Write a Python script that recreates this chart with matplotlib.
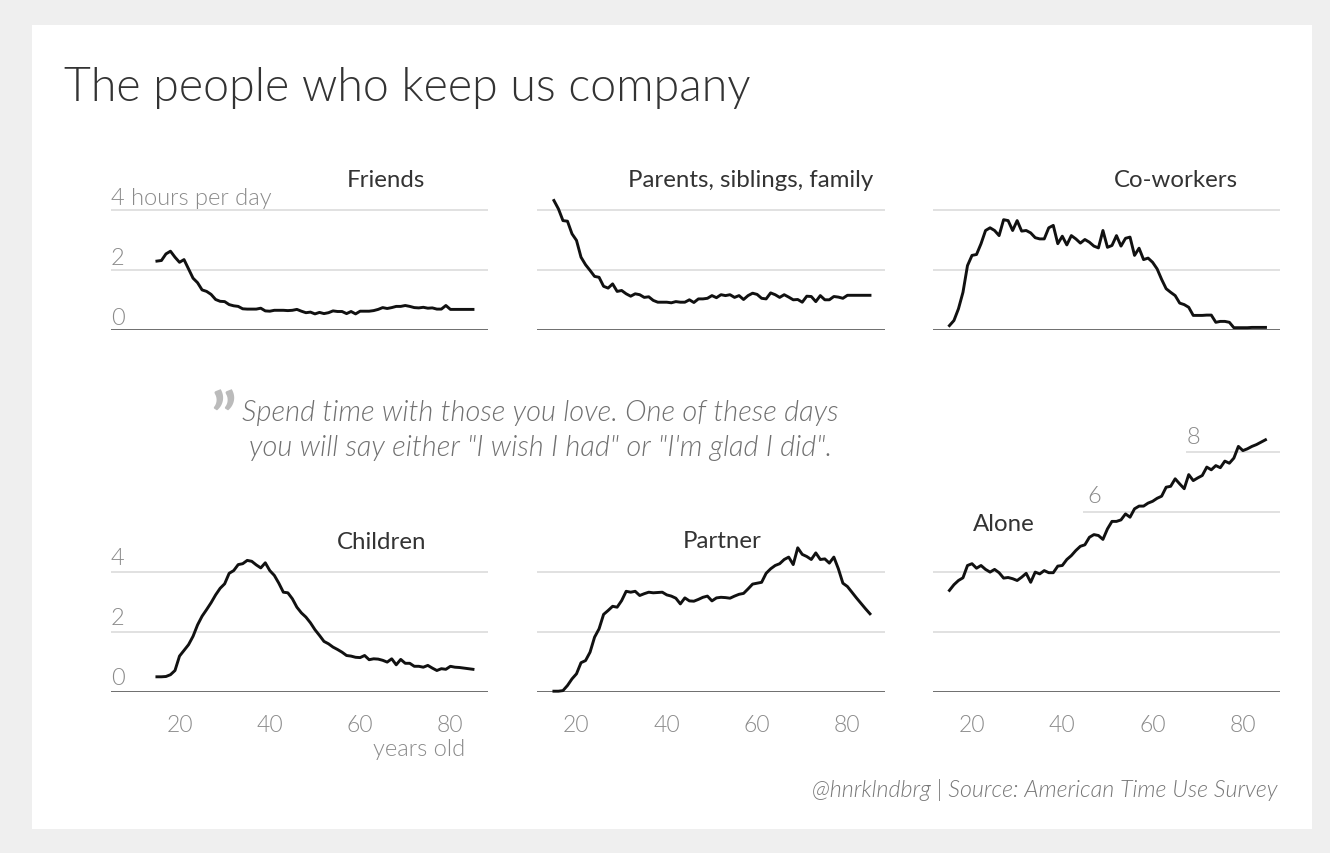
import matplotlib
matplotlib.use('Agg')
import matplotlib.pyplot as plt
from matplotlib.patches import Rectangle

plt.rcParams['font.family'] = ['Lato', 'DejaVu Sans']

# ---------------- data (hours per day by age) ----------------
ages = list(range(15, 86))

friends = [2.28, 2.30, 2.52, 2.61, 2.41, 2.24, 2.33, 2.02, 1.71, 1.56,
           1.32, 1.27, 1.17, 1.00, 0.94, 0.93, 0.83, 0.79, 0.77, 0.69,
           0.68, 0.68, 0.68, 0.71, 0.62, 0.61, 0.64, 0.64, 0.64, 0.63,
           0.64, 0.67, 0.61, 0.56, 0.58, 0.52, 0.57, 0.53, 0.56, 0.62,
           0.60, 0.60, 0.53, 0.60, 0.52, 0.61, 0.61, 0.61, 0.63, 0.67,
           0.73, 0.70, 0.73, 0.77, 0.77, 0.80, 0.77, 0.73, 0.72, 0.74,
           0.71, 0.72, 0.68, 0.68, 0.80, 0.67, 0.67, 0.67, 0.67, 0.67,
           0.67]

family = [4.30, 4.02, 3.63, 3.61, 3.19, 2.97, 2.41, 2.16, 1.97, 1.77,
          1.74, 1.44, 1.38, 1.52, 1.27, 1.30, 1.19, 1.11, 1.19, 1.16,
          1.07, 1.09, 0.97, 0.91, 0.91, 0.91, 0.89, 0.93, 0.91, 0.91,
          0.99, 0.90, 1.02, 1.02, 1.04, 1.13, 1.06, 1.16, 1.13, 1.16,
          1.07, 1.13, 1.00, 1.13, 1.21, 1.17, 1.04, 1.02, 1.22, 1.16,
          1.07, 1.16, 1.08, 0.99, 1.00, 0.91, 1.11, 1.10, 0.93, 1.13,
          0.99, 0.99, 1.10, 1.08, 1.04, 1.14, 1.14, 1.14, 1.14, 1.14,
          1.14]

coworkers = [0.13, 0.30, 0.69, 1.24, 2.13, 2.47, 2.50, 2.86, 3.30, 3.39,
             3.30, 3.13, 3.66, 3.63, 3.30, 3.63, 3.28, 3.30, 3.22, 3.06,
             3.02, 3.02, 3.39, 3.47, 2.86, 3.11, 2.82, 3.13, 3.02, 2.88,
             3.00, 2.91, 2.78, 2.72, 3.30, 2.74, 2.80, 3.13, 2.78, 3.04,
             3.08, 2.47, 2.71, 2.33, 2.38, 2.24, 2.02, 1.67, 1.36, 1.24,
             1.13, 0.88, 0.83, 0.74, 0.47, 0.47, 0.47, 0.48, 0.48, 0.24,
             0.27, 0.27, 0.24, 0.06, 0.06, 0.06, 0.06, 0.07, 0.07, 0.07,
             0.07]

children = [0.49, 0.49, 0.50, 0.56, 0.70, 1.18, 1.37, 1.56, 1.84, 2.22,
            2.51, 2.73, 2.96, 3.22, 3.44, 3.59, 3.94, 4.03, 4.23, 4.26,
            4.37, 4.34, 4.22, 4.12, 4.29, 4.03, 3.87, 3.61, 3.31, 3.29,
            3.09, 2.81, 2.62, 2.48, 2.29, 2.06, 1.87, 1.67, 1.59, 1.48,
            1.40, 1.31, 1.20, 1.18, 1.14, 1.13, 1.20, 1.06, 1.09, 1.08,
            1.04, 0.98, 1.09, 0.89, 1.07, 0.94, 0.94, 0.84, 0.84, 0.81,
            0.87, 0.78, 0.70, 0.76, 0.74, 0.84, 0.81, 0.80, 0.78, 0.76,
            0.74]

partner = [0.01, 0.01, 0.03, 0.20, 0.42, 0.59, 0.96, 1.03, 1.31, 1.81,
           2.09, 2.57, 2.70, 2.84, 2.81, 3.03, 3.34, 3.31, 3.34, 3.20,
           3.26, 3.31, 3.29, 3.30, 3.31, 3.22, 3.18, 3.11, 2.92, 3.12,
           3.02, 3.01, 3.07, 3.14, 3.18, 3.02, 3.12, 3.14, 3.13, 3.11,
           3.18, 3.24, 3.27, 3.42, 3.58, 3.61, 3.64, 3.94, 4.09, 4.20,
           4.26, 4.40, 4.48, 4.23, 4.79, 4.57, 4.50, 4.40, 4.62, 4.40,
           4.42, 4.28, 4.48, 4.09, 3.61, 3.50, 3.31, 3.12, 2.94, 2.76,
           2.59]

alone = [3.37, 3.56, 3.70, 3.79, 4.20, 4.26, 4.11, 4.20, 4.07, 3.98,
         4.07, 3.96, 3.78, 3.80, 3.76, 3.70, 3.81, 3.94, 3.64, 3.98,
         3.92, 4.03, 3.96, 3.96, 4.18, 4.20, 4.40, 4.53, 4.70, 4.84,
         4.89, 5.14, 5.23, 5.20, 5.07, 5.42, 5.67, 5.67, 5.72, 5.92,
         5.81, 6.09, 6.18, 6.18, 6.28, 6.34, 6.44, 6.51, 6.81, 6.84,
         7.09, 6.92, 6.76, 7.23, 7.03, 7.12, 7.20, 7.48, 7.39, 7.53,
         7.46, 7.68, 7.61, 7.78, 8.17, 8.03, 8.09, 8.17, 8.23, 8.31,
         8.39]

panel_titles = ["Friends", "Parents, siblings, family", "Co-workers",
                "Children", "Partner", "Alone"]
x_ticks = [20, 40, 60, 80]
y_grid = [0, 2, 4]
alone_grid = [0, 2, 4, 6, 8]

# ---------------- layout (pixels) ----------------
W, H = 1330, 854
PX_YR = 4.515
PX_HR = 30.0
GRID_C = '#d9d9d9'
BASE_C = '#555555'
TICK_C = '#8a8a8a'
LINE_C = '#111111'
LIGHT = 300

fig = plt.figure(figsize=(W / 100, H / 100), dpi=100)
fig.patch.set_facecolor('#efefef')
fig.patches.append(Rectangle((32 / W, 1 - 830 / H), (1312 - 32) / W, (830 - 26) / H,
                             transform=fig.transFigure, facecolor='white',
                             edgecolor='none', zorder=-5))


def fx(x):
    return x / W


def fy(y):
    return 1 - y / H


def make_ax(left, right, x20, base, top):
    ax = fig.add_axes([fx(left), fy(base), (right - left) / W, (base - top) / H])
    ax.set_xlim(20 + (left - x20) / PX_YR, 20 + (right - x20) / PX_YR)
    ax.set_ylim(0, (base - top) / PX_HR)
    ax.set_facecolor('none')
    for s in ax.spines.values():
        s.set_visible(False)
    ax.set_yticks([])
    ax.set_xticks([])
    return ax


cols = [(111, 488, 179.5), (537, 885, 576.5), (933, 1280, 972.0)]
row_base = [330.5, 692.5]

series = [friends, family, coworkers, children, partner, alone]
title_pos = [(347, 187), (628, 187), (1114, 187), (337, 549), (683, 548), (973, 531)]

axes = []
for i, vals in enumerate(series):
    r, c = divmod(i, 3)
    left, right, x20 = cols[c]
    base = row_base[r]
    top = base - (8.8 if i == 5 else 5.0) * PX_HR
    ax = make_ax(left, right, x20, base, top)
    axes.append(ax)

    grid_vals = alone_grid if i == 5 else y_grid
    for g in grid_vals:
        if g == 0:
            ax.axhline(0, color=BASE_C, lw=1.2, zorder=1)
        elif i == 5 and g == 6:
            ax.hlines(g, 44.5, ax.get_xlim()[1], color=GRID_C, lw=1.1, zorder=1)
        elif i == 5 and g == 8:
            ax.hlines(g, 67.4, ax.get_xlim()[1], color=GRID_C, lw=1.1, zorder=1)
        else:
            ax.axhline(g, color=GRID_C, lw=1.1, zorder=1)

    ax.plot(ages, vals, color=LINE_C, lw=2.1, solid_joinstyle='round',
            clip_on=False, zorder=3)

    tx, ty = title_pos[i]
    fig.text(fx(tx), fy(ty), panel_titles[i], fontsize=17.3, color='#333333',
             ha='left', va='baseline')

    if r == 1:
        ax.set_xticks(x_ticks)
        ax.set_xticklabels([str(t) for t in x_ticks])
        ax.tick_params(axis='x', length=0, pad=28.5, labelsize=16.5, labelcolor=TICK_C)
        for lab in ax.get_xticklabels():
            lab.set_va('baseline')
            lab.set_fontweight(LIGHT)

# y labels
y_lab_top = ["0", "2", "4 hours per day"]
y_lab_bot = ["0", "2", "4"]
for g, lab in zip(y_grid, y_lab_top):
    axes[0].annotate(lab, xy=(0, g), xycoords=('axes fraction', 'data'),
                     xytext=(0, 4.2), textcoords='offset points',
                     ha='left', va='baseline', fontsize=17, color=TICK_C,
                     fontweight=LIGHT)
for g, lab in zip(y_grid, y_lab_bot):
    axes[3].annotate(lab, xy=(0, g), xycoords=('axes fraction', 'data'),
                     xytext=(0, 5.5), textcoords='offset points',
                     ha='left', va='baseline', fontsize=17, color=TICK_C,
                     fontweight=LIGHT)
axes[5].annotate("6", xy=(45.6, 6), xycoords='data', xytext=(0, 7),
                 textcoords='offset points', ha='left', va='baseline',
                 fontsize=17, color=TICK_C, fontweight=LIGHT)
axes[5].annotate("8", xy=(67.6, 8), xycoords='data', xytext=(0, 6),
                 textcoords='offset points', ha='left', va='baseline',
                 fontsize=17, color=TICK_C, fontweight=LIGHT)

# "years old"
fig.text(fx(465), fy(756), "years old", fontsize=17, color=TICK_C,
         ha='right', va='baseline', fontweight=LIGHT)

# title
fig.text(fx(64), fy(101), "The people who keep us company", fontsize=33.5,
         color='#333333', ha='left', va='baseline', fontweight=LIGHT)

# quote
fig.text(fx(210), fy(442), "\u201d", fontsize=48, color='#bbbbbb',
         ha='left', va='baseline', fontweight='bold')
fig.text(fx(540), fy(421), "Spend time with those you love. One of these days",
         fontsize=20.9, color='#707070', ha='center', va='baseline',
         fontstyle='italic', fontweight=LIGHT)
fig.text(fx(541), fy(456), "you will say either \"I wish I had\" or \"I'm glad I did\".",
         fontsize=20.9, color='#707070', ha='center', va='baseline',
         fontstyle='italic', fontweight=LIGHT)

# footer
fig.text(fx(1277), fy(797), "@hnrklndbrg | Source: American Time Use Survey",
         fontsize=16.75, color='#777777', ha='right', va='baseline',
         fontstyle='italic', fontweight=LIGHT)

fig.savefig('out.png', dpi=100, facecolor=fig.get_facecolor())
